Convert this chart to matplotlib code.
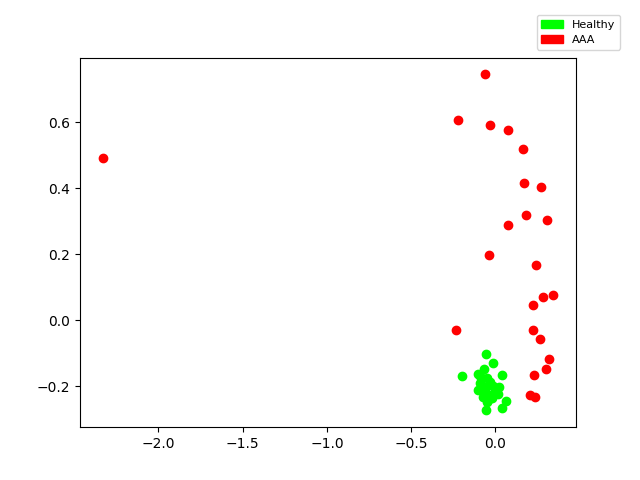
import matplotlib
matplotlib.use("Agg")
import matplotlib.pyplot as plt
import matplotlib.patches as mpatches

# first two components, AAA group
aaa_x = [-2.332, -0.065, -0.220, -0.030, 0.077, 0.166, 0.172, 0.273, 0.184, 0.303,
         0.077, -0.036, 0.243, 0.344, 0.279, 0.220, -0.237, 0.220, 0.267, 0.320,
         0.297, 0.231, 0.202, 0.237]
aaa_y = [0.491, 0.745, 0.606, 0.591, 0.576, 0.518, 0.415, 0.403, 0.318, 0.303,
         0.288, 0.197, 0.167, 0.076, 0.070, 0.045, -0.030, -0.030, -0.058, -0.118,
         -0.148, -0.167, -0.227, -0.233]

# healthy group
healthy_x = [-0.059, -0.012, -0.196, 0.036, -0.071, -0.101, -0.053, -0.030, -0.089, -0.059,
             -0.012, 0.018, -0.101, -0.071, -0.036, 0.000, -0.077, -0.047, -0.018, 0.012,
             -0.053, 0.065, 0.036, -0.059, -0.089]
healthy_y = [-0.103, -0.130, -0.170, -0.167, -0.148, -0.164, -0.176, -0.188, -0.191, -0.203,
             -0.200, -0.203, -0.212, -0.221, -0.227, -0.218, -0.233, -0.242, -0.236, -0.224,
             -0.248, -0.245, -0.267, -0.273, -0.170]

fig = plt.figure(figsize=(6.4, 4.8), dpi=100)
plt.scatter(aaa_x, aaa_y, color='red')
plt.scatter(healthy_x, healthy_y, color='lime')

handles = [mpatches.Patch(color='lime', label='Healthy'),
           mpatches.Patch(color='red', label='AAA')]
plt.legend(handles=handles, loc='upper right', bbox_to_anchor=(1.1, 1.13), fontsize=8)

plt.savefig('out.png')
plt.close()
